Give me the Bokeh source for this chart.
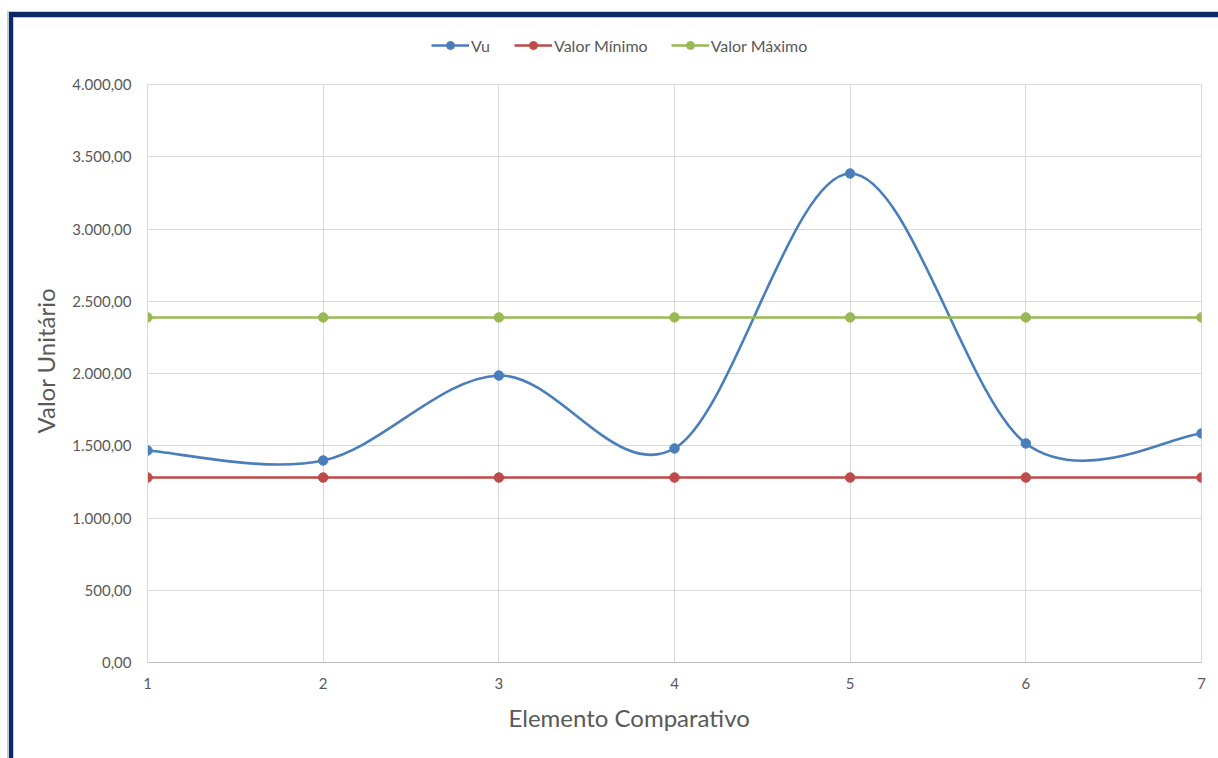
from bokeh.plotting import figure
from bokeh.layouts import column
from bokeh.models import (Range1d, FixedTicker, CustomJSTickFormatter, Legend, LegendItem, Title)
from bokeh.embed import file_html
from bokeh.resources import INLINE

# ---- data ----
elementos = [1, 2, 3, 4, 5, 6, 7]
vu = [1467, 1398, 1986, 1481, 3384, 1516, 1585]
valor_minimo = [1280, 1280, 1280, 1280, 1280, 1280, 1280]
valor_maximo = [2388, 2388, 2388, 2388, 2388, 2388, 2388]
y_ticks = [0, 500, 1000, 1500, 2000, 2500, 3000, 3500, 4000]
series_names = ["Vu", "Valor Mínimo", "Valor Máximo"]

FONT = "Lato"
TXT = "#595959"
BLUE = "#4A7EBB"
RED = "#BE4B48"
GREEN = "#98B954"
NAVY = "#0C2866"
LIGHT = "#C3CAD8"
colors = [BLUE, RED, GREEN]
series = [vu, valor_minimo, valor_maximo]

W = 1218
LEG_H = 60

# ---------- legend strip (top of chart) ----------
# its renderers hold the real series but lie outside this strip's visible ranges,
# so only their legend entries are seen
lf = figure(width=W, height=LEG_H, x_range=Range1d(-20, -10), y_range=Range1d(0, 1),
            output_backend="svg", toolbar_location=None,
            x_axis_location=None, y_axis_location=None, min_border=0)
lf.grid.visible = False
lf.outline_line_color = None
lf.background_fill_alpha = 0
lf.border_fill_alpha = 0
items = []
for name, c, s in zip(series_names, colors, series):
    rl = lf.line(x=elementos, y=s, line_color=c, line_width=2.6)
    rs = lf.scatter(x=elementos, y=s, size=9.5, color=c)
    items.append(LegendItem(label=name, renderers=[rl, rs]))
legend = Legend(items=items, orientation="horizontal", location=(284, 5))
legend.label_text_font = FONT
legend.label_text_font_size = "16px"
legend.label_text_color = TXT
legend.border_line_color = None
legend.background_fill_alpha = 0
legend.glyph_width = 38
legend.glyph_height = 20
legend.spacing = 23
legend.label_standoff = 2
legend.margin = 0
legend.padding = 0
lf.add_layout(legend, "center")

# ---------- main chart ----------
p = figure(width=W, height=758 - LEG_H, x_range=Range1d(1, 7), y_range=Range1d(0, 4000),
           output_backend="svg", toolbar_location=None,
           min_border_left=147, min_border_right=17, min_border_top=84 - LEG_H,
           min_border_bottom=96)
p.background_fill_color = "white"
p.border_fill_alpha = 0
p.outline_line_color = "#D9D9D9"

p.xaxis.ticker = FixedTicker(ticks=elementos)
p.yaxis.ticker = FixedTicker(ticks=y_ticks)
p.yaxis.formatter = CustomJSTickFormatter(code="""
var s = tick.toFixed(2).split('.');
return s[0].replace(/\\B(?=(\\d{3})+(?!\\d))/g, '.') + ',' + s[1];
""")
for ax in (p.xaxis, p.yaxis):
    ax.major_tick_line_color = None
    ax.minor_tick_line_color = None
    ax.major_tick_out = 0
    ax.major_tick_in = 0
    ax.major_label_text_font = FONT
    ax.major_label_text_font_size = "15px"
    ax.major_label_text_color = TXT
p.xaxis.axis_line_color = "#BFBFBF"
p.yaxis.axis_line_color = "#D9D9D9"
p.xaxis.major_label_standoff = 15
p.yaxis.major_label_standoff = 16

x_title = Title(text="Elemento Comparativo", align="left", offset=361, standoff=19,
                text_font=FONT, text_font_size="24px", text_color=TXT, text_font_style="normal")
y_title = Title(text="Valor Unitário", align="left", offset=229, standoff=20,
                text_font=FONT, text_font_size="24px", text_color=TXT, text_font_style="normal")
p.add_layout(x_title, "below")
p.add_layout(y_title, "left")

p.xgrid.grid_line_color = "#D9D9D9"
p.ygrid.grid_line_color = "#D9D9D9"

# smoothed Vu line (Catmull-Rom style bezier segments, like Excel smoothing)
n = len(elementos)
x0, y0, x1, y1, cx0, cy0, cx1, cy1 = [], [], [], [], [], [], [], []
for i in range(n - 1):
    ip = max(i - 1, 0)
    inx = min(i + 2, n - 1)
    x0.append(elementos[i]); y0.append(vu[i])
    x1.append(elementos[i + 1]); y1.append(vu[i + 1])
    cx0.append(elementos[i] + (elementos[i + 1] - elementos[ip]) / 6)
    cy0.append(vu[i] + (vu[i + 1] - vu[ip]) / 6)
    cx1.append(elementos[i + 1] - (elementos[inx] - elementos[i]) / 6)
    cy1.append(vu[i + 1] - (vu[inx] - vu[i]) / 6)

p.bezier(x0=x0, y0=y0, x1=x1, y1=y1, cx0=cx0, cy0=cy0, cx1=cx1, cy1=cy1,
         line_color=BLUE, line_width=2.6)
p.scatter(elementos, vu, size=9.5, color=BLUE)
p.line(elementos, valor_minimo, line_color=RED, line_width=2.6)
p.scatter(elementos, valor_minimo, size=9.5, color=RED)
p.line(elementos, valor_maximo, line_color=GREEN, line_width=2.6)
p.scatter(elementos, valor_maximo, size=9.5, color=GREEN)

# window frame drawn as CSS background of the layout element
def _bg(color, x, y, w, h):
    return f"linear-gradient({color},{color}) {x}px {y}px / {w} {h} no-repeat"

layout = column(lf, p, spacing=0, styles={
    "background": ", ".join([
        _bg(NAVY, 9, 12, "100%", "5px"),
        _bg(NAVY, 9, 12, "4px", "100%"),
        _bg(LIGHT, 7, 11, "100%", "7px"),
        _bg(LIGHT, 7, 11, "7px", "100%"),
        "white",
    ])
})

open("out.html", "w").write(file_html(layout, INLINE))
